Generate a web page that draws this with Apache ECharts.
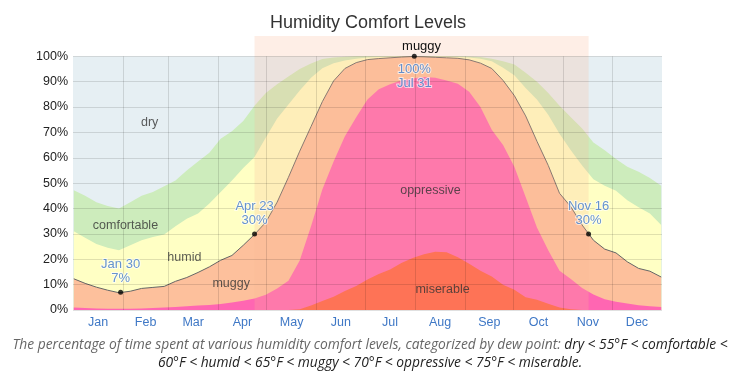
<!DOCTYPE html>
<html><head><meta charset="utf-8">
<script src="https://cdn.jsdelivr.net/npm/echarts@6/dist/echarts.min.js"></script>
<style>html,body{margin:0;padding:0;background:#fff}#c{width:747px;height:384px}</style>
</head><body><div id="c"></div>
<script>
// day-of-year index (0 = Jan 1) of each sample
const days = [0,7,14,21,28,35,42,49,56,63,70,77,84,91,98,105,112,119,126,133,140,147,154,161,168,175,182,189,196,203,210,217,224,231,238,245,252,259,266,273,280,287,294,301,308,315,322,329,336,343,350,357,364];
// cumulative percentages (top edge of each band)
const comfortableTop = [47.2,45.0,42.5,41.0,40.0,42.5,45.0,46.5,48.8,51.0,55.0,58.5,62.0,67.5,70.5,74.5,80.5,85.5,89.0,92.0,95.0,97.2,98.9,99.5,99.8,100,100,100,100,100,100,100,100,100,100,99.9,99.7,99.0,98.0,96.8,93.5,90.0,85.5,80.5,76.0,71.5,66.0,63.0,59.5,56.5,54.5,52.0,49.0];
const humidTop = [31.0,28.5,26.0,24.5,23.6,25.5,27.5,28.8,29.8,33.0,36.0,38.0,42.0,46.5,51.0,56.0,60.3,68.0,75.5,81.0,86.5,91.5,95.3,97.3,98.3,99.0,99.5,99.7,99.8,99.9,99.9,99.9,99.9,99.8,99.7,99.5,99.0,98.0,95.5,92.5,87.5,83.0,77.0,69.5,63.0,57.0,51.5,49.0,47.0,43.3,40.5,38.0,33.5];
const muggyTop = [12.3,10.5,9.0,7.8,6.8,7.4,8.5,8.9,9.3,11.3,12.8,14.8,17.0,19.6,21.5,25.5,29.8,34.6,42.5,52.3,62.6,72.3,82.1,90.3,95.2,97.5,98.7,99.1,99.4,99.7,99.9,99.8,99.6,99.4,99.2,98.6,97.3,95.2,90.5,84.5,76.5,66.5,57.0,46.0,40.7,33.5,27.5,24.0,22.5,19.0,16.4,15.3,13.0];
const oppressiveTop = [1.0,0.8,0.6,0.5,0.5,0.5,0.6,0.8,1.0,1.2,1.5,1.8,2.0,2.4,3.0,3.6,4.5,6.0,8.5,11.5,19.5,33,47.5,58.5,68.5,76,83,87,89,90.5,91.2,91.8,91.5,90.5,89.2,86,80,71,65,56.5,44.5,32.5,23.6,15.5,12.2,8.7,6.1,4.2,3.3,2.6,1.9,1.5,1.2];
const miserableTop = [0,0,0,0,0,0,0,0,0,0,0,0,0,0,0,0,0,0,0,0,0.3,1.8,3.5,5.2,7.5,9.5,12.0,14.2,16.0,18.5,20.5,22.0,23.0,22.8,20.8,18.2,15.5,13.2,10.0,8.0,5.0,4.0,2.5,1.0,0.3,0,0,0,0,0,0,0,0];

const monthLabels = ['Jan','Feb','Mar','Apr','May','Jun','Jul','Aug','Sep','Oct','Nov','Dec'];
const monthStarts = [0,31,59,90,120,151,181,212,243,273,304,334];
const monthMids = [15.5,45,74.5,105,135.5,166,196.5,227.5,258,288.5,319,349.5];
const yTicks = [0,10,20,30,40,50,60,70,80,90,100];

const markDays = [29,112,211,319];
const markVals = [7,30,100,30];
const markDates = ['Jan 30','Apr 23','Jul 31','Nov 16'];

const regionNames = ['dry','comfortable','humid','muggy','oppressive','miserable'];
const regionX = [47.5,32.5,69,98,221.5,229];
const regionY = [73.7,33.2,20.6,10.5,47,8.1];

const bandLabel = 'muggy';
const bandFrom = 112, bandTo = 319;

const FONT = '"Liberation Sans", Arial, sans-serif';
const xy = arr => days.map((d, i) => [d + 0.5, arr[i]]);
const area = (name, arr, color, extra) => Object.assign({
  name, type: 'line', data: xy(arr), symbol: 'none', showSymbol: false,
  lineStyle: { width: 0 }, areaStyle: { color, opacity: 1 }, z: 2, silent: true
}, extra || {});

const gridLines = yTicks.map(v => ({ yAxis: v }))
  .concat(monthStarts.filter(s => s > 0).map(s => [{ coord: [s, 0] }, { coord: [s, 100] }]));

const chart = echarts.init(document.getElementById('c'), null, { renderer: 'canvas' });
chart.setOption({
  animation: false,
  title: [{
    text: 'Humidity Comfort Levels', left: 363, top: 9, textAlign: 'center',
    textStyle: { fontFamily: FONT, fontSize: 18, fontWeight: 'normal', color: '#333' }
  }, {
    text: '{g|The percentage of time spent at various humidity comfort levels, categorized by dew point: }{d|dry < 55°F < comfortable <}\n{d|60°F < humid < 65°F < muggy < 70°F < oppressive < 75°F < miserable.}',
    left: 365, top: 331, textAlign: 'center',
    textStyle: {
      fontFamily: '"Open Sans", sans-serif', fontSize: 13.8, fontStyle: 'italic', fontWeight: 'normal', lineHeight: 18,
      rich: {
        g: { color: '#666', fontFamily: '"Open Sans", sans-serif', fontSize: 13.8, fontStyle: 'italic', lineHeight: 18 },
        d: { color: '#222', fontFamily: '"Open Sans", sans-serif', fontSize: 13.8, fontStyle: 'italic', lineHeight: 18 }
      }
    }
  }],
  grid: { left: 73, right: 85, top: 36, bottom: 74 },
  xAxis: {
    type: 'value', min: 0, max: 365,
    axisLine: { show: false }, axisTick: { show: false }, splitLine: { show: false },
    axisLabel: {
      customValues: monthMids, margin: 6, color: '#3f78c6', fontFamily: FONT, fontSize: 12.5,
      formatter: v => monthLabels[monthMids.indexOf(v)] || ''
    }
  },
  yAxis: {
    type: 'value', min: 0, max: 108, interval: 10,
    axisLine: { show: false }, axisTick: { show: false }, splitLine: { show: false },
    axisLabel: {
      showMaxLabel: false, margin: 5, color: '#222', fontFamily: FONT, fontSize: 12.5,
      formatter: v => (v > 100 ? '' : v + '%')
    }
  },
  series: [
    { type: 'line', data: [], z: 1, silent: true,
      markArea: { silent: true, z: 1, itemStyle: { color: '#e6eff3' },
        data: [[{ xAxis: 0, yAxis: 0 }, { xAxis: 365, yAxis: 100 }]] } },
    area('comfortable', comfortableTop, '#cdecbc'),
    area('humid', humidTop, '#ffffc4'),
    area('muggy', muggyTop, '#fdc09c', { lineStyle: { width: 1, color: '#666' } }),
    area('oppressive', oppressiveTop, '#ff66b2'),
    area('miserable', miserableTop, '#ff5e42'),
    { type: 'line', data: [], z: 6, silent: true,
      markArea: { silent: true, z: 6, itemStyle: { color: 'rgba(250,185,150,0.24)' },
        label: { show: true, position: 'insideTop', distance: 4, color: '#111', fontFamily: FONT, fontSize: 13 },
        data: [[{ name: bandLabel, xAxis: bandFrom + 0.5, yAxis: 0 }, { xAxis: bandTo + 0.5, yAxis: 108 }]] },
      markLine: { silent: true, z: 7, symbol: ['none', 'none'], label: { show: false },
        lineStyle: { color: 'rgba(0,0,0,0.12)', width: 1, type: 'solid' }, data: gridLines } },
    { type: 'scatter', z: 11, silent: true, symbolSize: 0,
      data: regionNames.map((n, i) => ({ name: n, value: [regionX[i], regionY[i]] })),
      label: { show: true, position: 'inside', formatter: p => p.name, color: '#333', fontFamily: FONT, fontSize: 12.5 } },
    { type: 'scatter', z: 12, silent: true, symbolSize: 5, itemStyle: { color: '#000' },
      data: markDays.map((d, i) => ({
        value: [d + 0.5, markVals[i]],
        label: {
          position: markVals[i] >= 100 ? 'bottom' : 'top',
          formatter: markVals[i] >= 100 ? markVals[i] + '%\n' + markDates[i] : markDates[i] + '\n' + markVals[i] + '%'
        }
      })),
      label: { show: true, distance: 4, color: '#3f78c6', fontFamily: FONT, fontSize: 13, lineHeight: 14,
        textBorderColor: 'rgba(255,255,255,0.8)', textBorderWidth: 2 } }
  ]
});
</script></body></html>
